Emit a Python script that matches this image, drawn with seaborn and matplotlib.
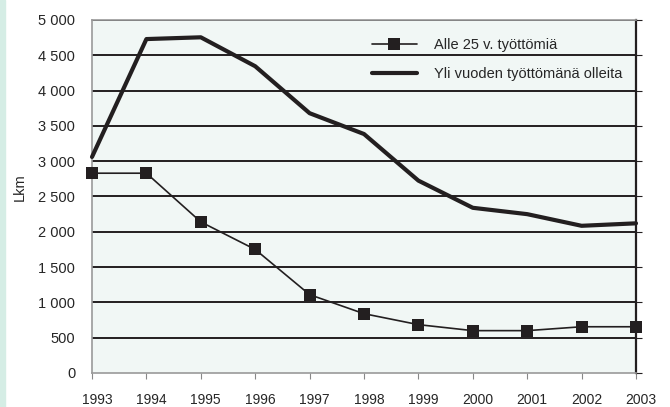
import pandas as pd
import seaborn as sns
import matplotlib.pyplot as plt
import matplotlib.ticker as mticker
from matplotlib.patches import Rectangle
from matplotlib.transforms import ScaledTranslation

# Data
years = [1993, 1994, 1995, 1996, 1997, 1998, 1999, 2000, 2001, 2002, 2003]
alle_25 = [2830, 2830, 2140, 1750, 1110, 840, 685, 600, 600, 655, 655]
yli_vuoden = [3060, 4730, 4755, 4345, 3680, 3385, 2725, 2340, 2250, 2085, 2120]
label_alle = "Alle 25 v. työttömiä"
label_yli = "Yli vuoden työttömänä olleita"

df = pd.DataFrame({"vuosi": years, label_alle: alle_25, label_yli: yli_vuoden})

sns.set_style("white", {"axes.facecolor": "#f1f7f5"})
plt.rcParams["font.family"] = ["Liberation Sans", "DejaVu Sans"]

fig = plt.figure(figsize=(6.7, 4.07), dpi=100)
# pale strip on the left edge
fig.patches.append(Rectangle((0, 0), 5 / 670, 1, transform=fig.transFigure,
                             color="#d5ede5", zorder=0))
ax = fig.add_axes([92 / 670, 34 / 407, 544 / 670, 353 / 407])

# horizontal grid lines
for v in range(500, 5001, 500):
    ax.axhline(v, color="#231f20", lw=1.4, zorder=1)

sns.lineplot(data=df, x="vuosi", y=label_alle, ax=ax, color="#231f20", lw=1.2,
             marker="s", markersize=8, markeredgewidth=0, label=label_alle,
             zorder=3, clip_on=False)
sns.lineplot(data=df, x="vuosi", y=label_yli, ax=ax, color="#231f20", lw=3,
             label=label_yli, zorder=3, clip_on=False)

ax.set_xlim(1993, 2003)
ax.set_ylim(0, 5000)
ax.set_xticks(years)
ax.set_yticks(range(0, 5001, 500))
ax.yaxis.set_major_formatter(mticker.FuncFormatter(lambda v, p: f"{int(v):,}".replace(",", " ")))
ax.set_xlabel("")
ax.set_ylabel("Lkm", fontsize=10.5)
ax.yaxis.set_label_coords(-0.12, 0.527)
ax.tick_params(axis="x", labelsize=10, bottom=True, length=4, color="#888888", pad=10.5)
ax.tick_params(axis="y", labelsize=10.5, left=False, right=True, direction="out",
               length=4, color="#231f20", pad=8)
ax.yaxis.set_ticks_position("right")
ax.yaxis.set_tick_params(labelleft=True, labelright=False)

# year labels sit a little right of their ticks in the original
shift = ScaledTranslation(5 / 100, 0, fig.dpi_scale_trans)
for lab in ax.get_xticklabels():
    lab.set_transform(lab.get_transform() + shift)

for s in ["left", "top", "bottom"]:
    ax.spines[s].set_color("#9a9a9a")
    ax.spines[s].set_linewidth(1.2)
ax.spines["right"].set_color("#231f20")
ax.spines["right"].set_linewidth(1.6)

leg = ax.legend(loc="upper left", bbox_to_anchor=(0.49, 0.985), frameon=False,
                fontsize=10.5, handlelength=3.1, labelspacing=1.0, handletextpad=1.15)

fig.savefig("out.png", dpi=100)
